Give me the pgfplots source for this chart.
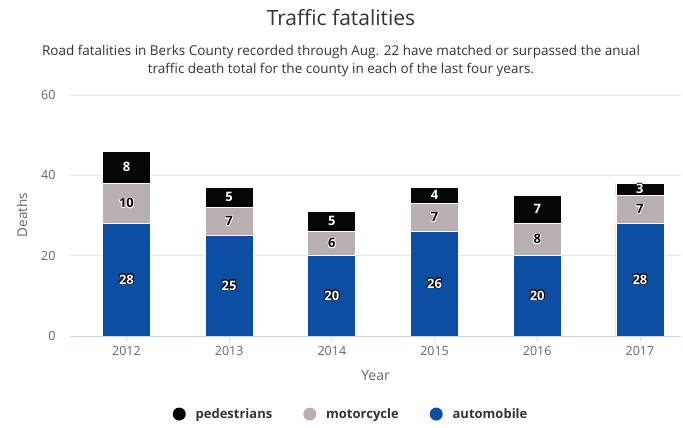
\documentclass[border=0pt]{standalone}
\usepackage{pgfplots}
\pgfplotsset{compat=1.18}
\usepackage{pgfplotstable}
\usepackage{fontspec}
\setmainfont{Open Sans}
\usepackage[copies]{contour}
\contourlength{0.7pt}
\definecolor{autoc}{HTML}{0B4EA2}
\definecolor{motoc}{HTML}{B8B0B0}
\definecolor{pedc}{HTML}{050505}
\definecolor{txt}{HTML}{666666}
\definecolor{dark}{HTML}{333333}
\definecolor{axl}{HTML}{CCD6EB}
\definecolor{grd}{HTML}{E6E6E6}
\pgfplotstableread{
x auto moto ped
0 28 10 8
1 25 7 5
2 20 6 5
3 26 7 4
4 20 8 7
5 28 7 3
}\data
\begin{document}
\begin{tikzpicture}[x=1pt,y=1pt]
\pgfplotsset{common/.style={scale only axis, width=611pt, height=241pt,
  xmin=-0.55, xmax=5.4, ymin=0, ymax=60}}
\begin{axis}[common, ybar stacked, bar width=48pt,
  axis x line*=bottom, axis y line*=left,
  x axis line style={axl, line width=0.8pt, -},
  y axis line style={draw=none},
  xtick=data, xticklabels={2012,2013,2014,2015,2016,2017},
  ytick={0,20,40,60}, ymajorgrids, grid style={grd, line width=0.8pt},
  major tick length=5pt, xtick style={axl, line width=0.8pt}, ytick style={draw=none},
  tick align=outside,
  /pgf/number format/assume math mode=true,
  /pgf/number format/1000 sep={},
  xticklabel style={font=\fontsize{12.5}{14}\selectfont, text=txt, yshift=-2pt},
  yticklabel style={font=\fontsize{12.5}{14}\selectfont, text=txt, xshift=-6pt},
  xlabel={Year}, xlabel style={font=\fontsize{14}{16}\selectfont, text=txt, yshift=-8pt},
  legend image code/.code={\path[#1, draw=none] (-5pt,0pt) circle (6.5pt); \path (9pt,0pt);},
  reverse legend,
  legend columns=3,
  legend style={at={(0.46,-0.324)}, anchor=center, draw=none, fill=none,
    font=\fontsize{13}{15}\selectfont\bfseries, text=dark,
    /tikz/every even column/.append style={column sep=29pt}},
  every axis plot/.append style={draw=white, line width=0.8pt},
]
\addplot[fill=autoc] table[x=x, y=auto] {\data};
\addlegendentry{automobile}
\addplot[fill=motoc] table[x=x, y=moto] {\data};
\addlegendentry{motorcycle}
\addplot[fill=pedc] table[x=x, y=ped] {\data};
\addlegendentry{pedestrians}
\end{axis}
\begin{axis}[common, hide axis,
  every node near coord/.append style={anchor=center, inner sep=0pt,
    font=\fontsize{13}{15}\selectfont\bfseries}]
\addplot[draw=none, mark=none, point meta=explicit symbolic,
  nodes near coords={\contour{black}{\textcolor{white}{\pgfplotspointmeta}}}]
  table[x=x, y expr=\thisrow{auto}/2, meta=auto] {\data};
\addplot[draw=none, mark=none, point meta=explicit symbolic,
  nodes near coords={\contour{white}{\textcolor{black}{\pgfplotspointmeta}}}]
  table[x=x, y expr=\thisrow{auto}+\thisrow{moto}/2, meta=moto] {\data};
\addplot[draw=none, mark=none, point meta=explicit symbolic,
  nodes near coords={\contour{black}{\textcolor{white}{\pgfplotspointmeta}}}]
  table[x=x, y expr=\thisrow{auto}+\thisrow{moto}+\thisrow{ped}/2, meta=ped] {\data};
\end{axis}
\node[font=\fontsize{21}{24}\selectfont, text=dark] at (271,318) {Traffic fatalities};
\node[font=\fontsize{13.5}{18}\selectfont, text=dark, align=center] at (271,275)
  {Road fatalities in Berks County recorded through Aug. 22 have matched or surpassed the anual\\
   traffic death total for the county in each of the last four years.};
\node[font=\fontsize{13.5}{15}\selectfont, text=txt, rotate=90] at (-48,121) {Deaths};
\pgfresetboundingbox
\path[use as bounding box] (-70,-92) rectangle (613,336);
\end{tikzpicture}
\end{document}
